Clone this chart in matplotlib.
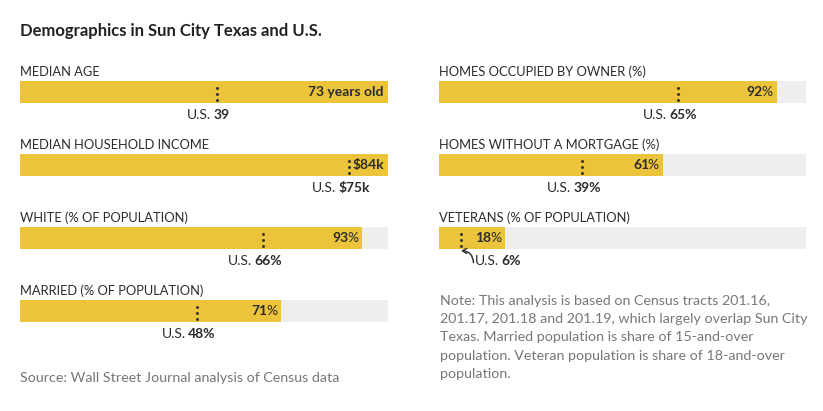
import matplotlib
matplotlib.use('Agg')
import matplotlib.pyplot as plt
import matplotlib.transforms as mtransforms

W, H, DPI = 823, 411, 100
YELLOW = '#EBC43B'
GREY = '#EEEEF0'
TEXT = '#2b2b2b'
MUTED = '#777777'

plt.rcParams['font.family'] = ['Lato', 'DejaVu Sans']

# left column
left_titles = ['MEDIAN AGE', 'MEDIAN HOUSEHOLD INCOME',
               'WHITE (% OF POPULATION)', 'MARRIED (% OF POPULATION)']
left_values = [73, 84, 93, 71]
left_us = [39, 75, 66, 48]
left_max = [73, 84, 100, 100]
left_value_text = ['73 years old', '$84k', '93', '71']
left_us_text = ['39', '$75k', '66', '48']
left_units = ['', '', '%', '%']

# right column
right_titles = ['HOMES OCCUPIED BY OWNER (%)', 'HOMES WITHOUT A MORTGAGE (%)',
                'VETERANS (% OF POPULATION)']
right_values = [92, 61, 18]
right_us = [65, 39, 6]
right_max = [100, 100, 100]
right_value_text = ['92', '61', '18']
right_us_text = ['65', '39', '6']
right_units = ['%', '%', '%']

note = ('Note: This analysis is based on Census tracts 201.16,\n'
        '201.17, 201.18 and 201.19, which largely overlap Sun City\n'
        'Texas. Married population is share of 15-and-over\n'
        'population. Veteran population is share of 18-and-over\n'
        'population.')

fig = plt.figure(figsize=(W / DPI, H / DPI), dpi=DPI)
renderer = fig.canvas.get_renderer()


def draw_parts(ax, x, y, parts, align, dx=0, size=10, gap=0.0):
    # parts: list of (string, weight); drawn side by side
    objs = [ax.text(x, y, s, fontweight=w, fontsize=size, color=TEXT,
                    ha='left', va='center', clip_on=False) for s, w in parts]
    widths = [o.get_window_extent(renderer).width for o in objs]
    total = sum(widths) + gap * (len(objs) - 1)
    start = {'left': 0, 'right': -total, 'center': -total / 2}[align] + dx
    for o, w in zip(objs, widths):
        o.set_transform(mtransforms.offset_copy(ax.transData, fig=fig, x=start, y=0, units='dots'))
        start += w + gap


def panel(x0, x1, top, title, value, us, vmax, vtext, ustext, unit, arrow=False):
    ax = fig.add_axes([x0 / W, 1 - (top + 22) / H, (x1 - x0) / W, 22 / H])
    ax.set_facecolor(GREY)
    ax.barh(0.5, value, height=1, color=YELLOW, linewidth=0)
    ax.set_xlim(0, vmax)
    ax.set_ylim(0, 1)
    ax.set_xticks([])
    ax.set_yticks([])
    for s in ax.spines.values():
        s.set_visible(False)
    ax.plot([us, us], [0.12, 0.92], color='#333333', lw=2.2,
            linestyle=(0, (0.01, 1.95)), dash_capstyle='round')
    ax.text(0, 1.42, title, fontsize=9.3, color=TEXT, ha='left', va='center', clip_on=False)
    vparts = [(vtext, 'bold')] + ([(unit, 'normal')] if unit else [])
    draw_parts(ax, value, 0.5, vparts, 'right', dx=-4, gap=-1.5)
    uparts = [('U.S.', 'normal'), (ustext + unit, 'bold')]
    if arrow:
        draw_parts(ax, us, -0.55, uparts, 'left', dx=14, gap=2.5)
        ax.annotate('', xy=(us, -0.08), xytext=(9, -8.5), textcoords='offset points',
                    arrowprops=dict(arrowstyle='->,head_length=0.3,head_width=0.18',
                                    color='#333333', lw=1.1,
                                    connectionstyle='arc3,rad=0.45',
                                    shrinkA=0, shrinkB=0),
                    annotation_clip=False)
    else:
        draw_parts(ax, us, -0.55, uparts, 'center', dx=-8, gap=2.5)
    return ax


tops = [81, 154, 227, 300]
for i in range(len(left_titles)):
    panel(20, 388, tops[i], left_titles[i], left_values[i], left_us[i], left_max[i],
          left_value_text[i], left_us_text[i], left_units[i])
for i in range(len(right_titles)):
    panel(439, 806, tops[i], right_titles[i], right_values[i], right_us[i], right_max[i],
          right_value_text[i], right_us_text[i], right_units[i], arrow=(i == 2))

fig.text(20 / W, 1 - 31 / H, 'Demographics in Sun City Texas and U.S.', fontsize=12,
         fontweight='bold', color='#222222', ha='left', va='center')
fig.text(20 / W, 1 - 378 / H, 'Source: Wall Street Journal analysis of Census data',
         fontsize=10.3, color=MUTED, ha='left', va='center')
fig.text(440 / W, 1 - 295 / H, note, fontsize=10.3, color=MUTED, ha='left', va='top',
         linespacing=1.62)

fig.savefig('out.png', dpi=DPI)
